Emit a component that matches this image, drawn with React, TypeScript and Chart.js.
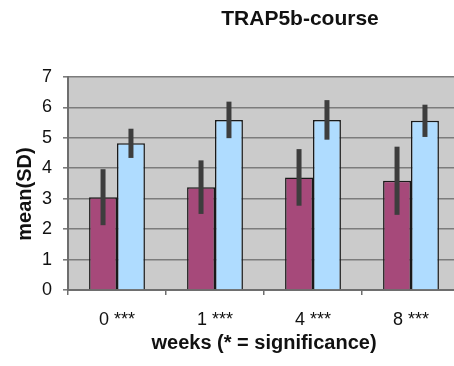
import React, { useEffect, useRef } from "react";
import { Chart, registerables } from "chart.js";

Chart.register(...registerables);

const categories = ["0 ***", "1 ***", "4 ***", "8 ***"];
const groupAMeans = [3.05, 3.38, 3.7, 3.59];
const groupASD = [0.92, 0.88, 0.93, 1.12];
const groupBMeans = [4.82, 5.59, 5.59, 5.56];
const groupBSD = [0.48, 0.6, 0.65, 0.53];
const yTicks = [0, 1, 2, 3, 4, 5, 6, 7];
const titleText = "TRAP5b-course";
const yTitle = "mean(SD)";
const xTitle = "weeks (* = significance)";

const FONT = "'Liberation Sans', Arial, Helvetica, sans-serif";
const sds = [groupASD, groupBSD];

const bgPlugin = {
  id: "plotBg",
  beforeDraw(chart: any) {
    const { ctx, chartArea } = chart;
    ctx.save();
    ctx.fillStyle = "#cbcbcb";
    ctx.fillRect(chartArea.left, chartArea.top, chartArea.right - chartArea.left, chartArea.bottom - chartArea.top);
    ctx.restore();
  },
};

const errPlugin = {
  id: "errBars",
  afterDatasetsDraw(chart: any) {
    const { ctx } = chart;
    const y = chart.scales.y;
    ctx.save();
    ctx.strokeStyle = "#3d3d3d";
    ctx.lineWidth = 5;
    ctx.lineCap = "butt";
    chart.data.datasets.forEach((ds: any, di: number) => {
      const meta = chart.getDatasetMeta(di);
      meta.data.forEach((bar: any, i: number) => {
        const v = ds.data[i];
        const sd = sds[di][i];
        ctx.beginPath();
        ctx.moveTo(bar.x, y.getPixelForValue(v + sd));
        ctx.lineTo(bar.x, y.getPixelForValue(v - sd));
        ctx.stroke();
      });
    });
    ctx.restore();
  },
};

const textPlugin = {
  id: "texts",
  afterDraw(chart: any) {
    const { ctx } = chart;
    ctx.save();
    ctx.fillStyle = "#111";
    ctx.textAlign = "center";
    ctx.textBaseline = "middle";
    ctx.font = `bold 21px ${FONT}`;
    ctx.fillText(titleText, 300, 19);
    ctx.translate(25, 194);
    ctx.rotate(-Math.PI / 2);
    ctx.font = `bold 20px ${FONT}`;
    ctx.fillText(yTitle, 0, 0);
    ctx.restore();
  },
};

export default function App() {
  const ref = useRef<HTMLCanvasElement | null>(null);
  useEffect(() => {
    if (!ref.current) return;
    const chart = new Chart(ref.current, {
      type: "bar",
      data: {
        labels: categories,
        datasets: [
          {
            data: groupAMeans,
            backgroundColor: "#a6497a",
            borderColor: "#1a1a1a",
            borderWidth: 1.5,
            categoryPercentage: 0.57,
            barPercentage: 1,
          },
          {
            data: groupBMeans,
            backgroundColor: "#afdcff",
            borderColor: "#1a1a1a",
            borderWidth: 1.5,
            categoryPercentage: 0.57,
            barPercentage: 1,
          },
        ],
      },
      options: {
        animation: false,
        responsive: false,
        maintainAspectRatio: false,
        layout: { padding: { top: 77, right: 2, left: 0, bottom: 0 } },
        plugins: { legend: { display: false }, tooltip: { enabled: false }, title: { display: false } },
        scales: {
          x: {
            afterFit(scale: any) {
              scale.height = 76;
            },
            grid: { display: true, drawOnChartArea: false, drawTicks: true, tickLength: 5, color: "#6e6e6e", lineWidth: 1.5, offset: true },
            border: { display: true, color: "#6e6e6e", width: 2 },
            ticks: { color: "#111", font: { family: FONT, size: 18 }, padding: 14, maxRotation: 0 },
            title: { display: true, text: xTitle, color: "#111", font: { family: FONT, size: 20, weight: "bold" }, padding: { top: 0, bottom: 11 } },
          },
          y: {
            min: 0,
            max: 7,
            afterFit(scale: any) {
              scale.width = 68;
            },
            afterBuildTicks(scale: any) {
              scale.ticks = yTicks.map((v) => ({ value: v }));
            },
            grid: { color: "#7c7c7c", lineWidth: 1.6, tickLength: 5, drawTicks: true },
            border: { display: true, color: "#6e6e6e", width: 2 },
            ticks: { color: "#111", font: { family: FONT, size: 18 }, padding: 11 },
          },
        },
      },
      plugins: [bgPlugin, errPlugin, textPlugin],
    });
    return () => chart.destroy();
  }, []);
  return (
    <div style={{ position: "fixed", left: 0, top: 0, width: 462, height: 366, background: "#fff" }}>
      <canvas ref={ref} width={462} height={366} style={{ display: "block", width: 462, height: 366 }} />
    </div>
  );
}
